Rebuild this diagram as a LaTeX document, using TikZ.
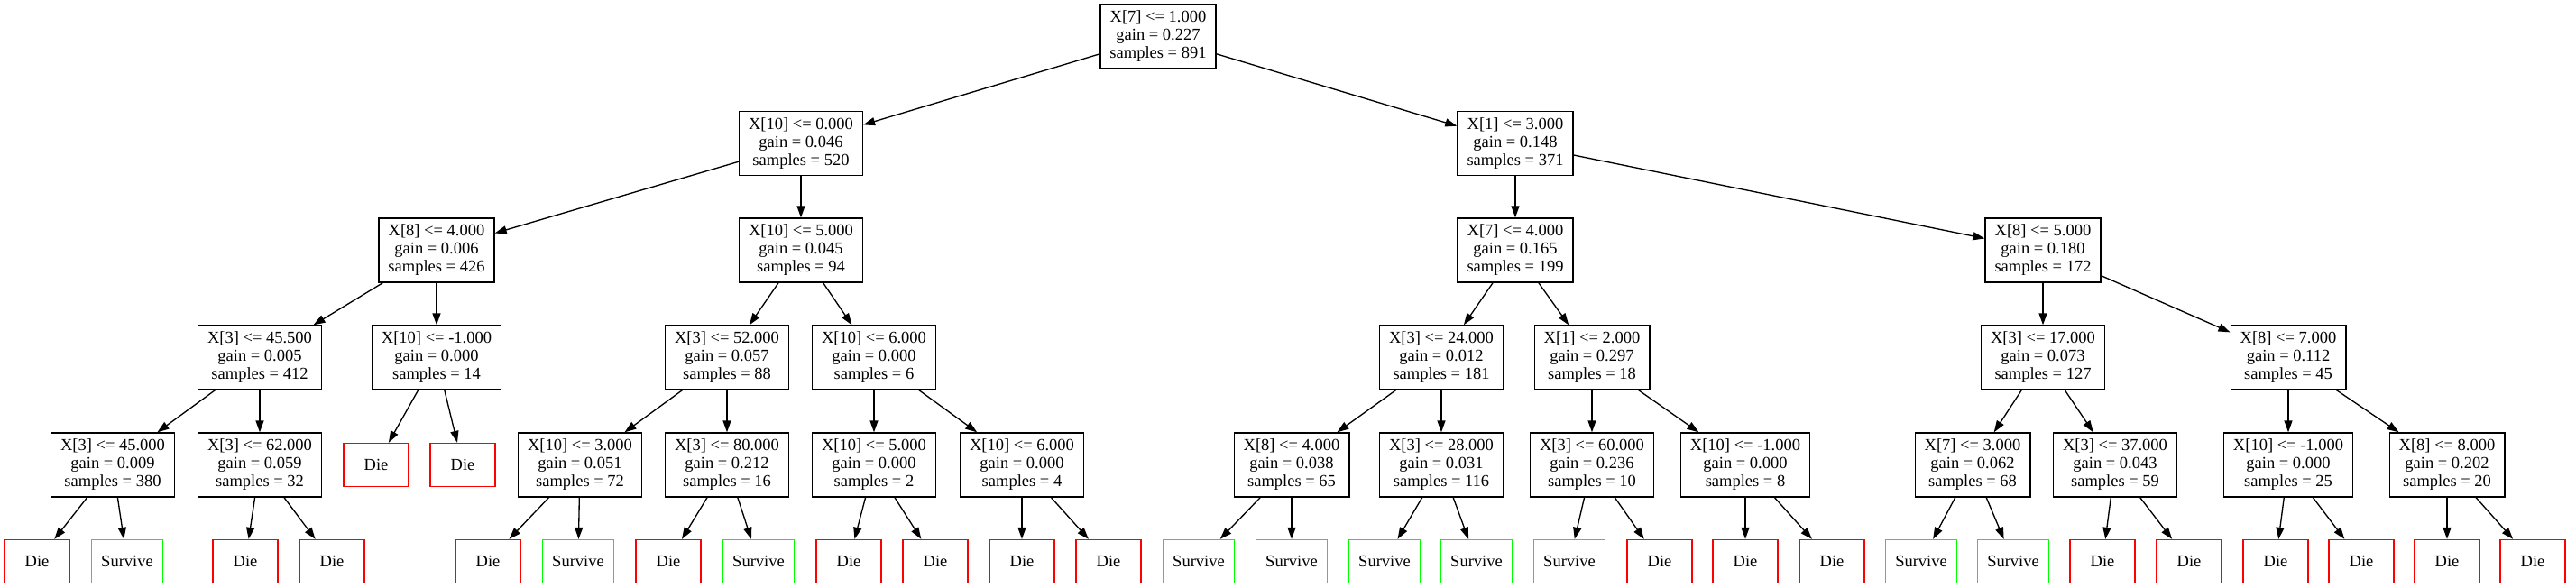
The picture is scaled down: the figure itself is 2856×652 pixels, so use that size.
\documentclass[tikz,border=0pt]{standalone}
\usepackage{fontspec}
\setmainfont{Liberation Serif}
\usetikzlibrary{arrows.meta}

\begin{document}
\begin{tikzpicture}[
        x=1pt, y=-1pt,
        font=\fontsize{18.5}{20}\selectfont,
        split/.style={
            rectangle, draw=black, line width=1.33pt,
            align=center, inner xsep=10.5pt, inner ysep=4pt,
            minimum height=71pt
        },
        leaf/.style={
            rectangle, draw=#1, line width=1.33pt,
            inner xsep=10.5pt, minimum width=72pt, minimum height=48pt
        },
        edge/.style={-{Triangle[length=13pt,width=9pt]}, line width=1.33pt}
    ]
    \useasboundingbox (0,0) rectangle (2856,652);

    % --- Root ---
    \node[split] (r) at (1284,40.5) {X[7] <= 1.000\\gain = 0.227\\samples = 891};

    % --- Level 1 ---
    \node[split] (a) at (888,159) {X[10] <= 0.000\\gain = 0.046\\samples = 520};
    \node[split] (b) at (1680,159) {X[1] <= 3.000\\gain = 0.148\\samples = 371};

    % --- Level 2 ---
    \node[split] (aa) at (484,277.5) {X[8] <= 4.000\\gain = 0.006\\samples = 426};
    \node[split] (ab) at (888,277.5) {X[10] <= 5.000\\gain = 0.045\\samples = 94};
    \node[split] (ba) at (1680,277.5) {X[7] <= 4.000\\gain = 0.165\\samples = 199};
    \node[split] (bb) at (2265,277.5) {X[8] <= 5.000\\gain = 0.180\\samples = 172};

    % --- Level 3 ---
    \node[split] (aaa) at (288,396.5) {X[3] <= 45.500\\gain = 0.005\\samples = 412};
    \node[split] (aab) at (484,396.5) {X[10] <= -1.000\\gain = 0.000\\samples = 14};
    \node[split] (aba) at (806,396.5) {X[3] <= 52.000\\gain = 0.057\\samples = 88};
    \node[split] (abb) at (969,396.5) {X[10] <= 6.000\\gain = 0.000\\samples = 6};
    \node[split] (baa) at (1598,396.5) {X[3] <= 24.000\\gain = 0.012\\samples = 181};
    \node[split] (bab) at (1765,396.5) {X[1] <= 2.000\\gain = 0.297\\samples = 18};
    \node[split] (bba) at (2265,396.5) {X[3] <= 17.000\\gain = 0.073\\samples = 127};
    \node[split] (bbb) at (2537,396.5) {X[8] <= 7.000\\gain = 0.112\\samples = 45};

    % --- Level 4 ---
    \node[split] (aaaa) at (125,515.5) {X[3] <= 45.000\\gain = 0.009\\samples = 380};
    \node[split] (aaab) at (288,515.5) {X[3] <= 62.000\\gain = 0.059\\samples = 32};
    \node[leaf=red] (aab1) at (417,515.5) {Die};
    \node[leaf=red] (aab2) at (513,515.5) {Die};
    \node[split] (abaa) at (643,515.5) {X[10] <= 3.000\\gain = 0.051\\samples = 72};
    \node[split] (abab) at (806,515.5) {X[3] <= 80.000\\gain = 0.212\\samples = 16};
    \node[split] (abba) at (969,515.5) {X[10] <= 5.000\\gain = 0.000\\samples = 2};
    \node[split] (abbb) at (1133,515.5) {X[10] <= 6.000\\gain = 0.000\\samples = 4};
    \node[split] (baaa) at (1432,515.5) {X[8] <= 4.000\\gain = 0.038\\samples = 65};
    \node[split] (baab) at (1598,515.5) {X[3] <= 28.000\\gain = 0.031\\samples = 116};
    \node[split] (baba) at (1765,515.5) {X[3] <= 60.000\\gain = 0.236\\samples = 10};
    \node[split] (babb) at (1935,515.5) {X[10] <= -1.000\\gain = 0.000\\samples = 8};
    \node[split] (bbaa) at (2187,515.5) {X[7] <= 3.000\\gain = 0.062\\samples = 68};
    \node[split] (bbab) at (2345,515.5) {X[3] <= 37.000\\gain = 0.043\\samples = 59};
    \node[split] (bbba) at (2537,515.5) {X[10] <= -1.000\\gain = 0.000\\samples = 25};
    \node[split] (bbbb) at (2713,515.5) {X[8] <= 8.000\\gain = 0.202\\samples = 20};

    % --- Leaves ---
    \node[leaf=red]   (aaaa1) at (41,622.5) {Die};
    \node[leaf=green] (aaaa2) at (141,622.5) {Survive};
    \node[leaf=red]   (aaab1) at (272,622.5) {Die};
    \node[leaf=red]   (aaab2) at (368,622.5) {Die};
    \node[leaf=red]   (abaa1) at (541,622.5) {Die};
    \node[leaf=green] (abaa2) at (641,622.5) {Survive};
    \node[leaf=red]   (abab1) at (741,622.5) {Die};
    \node[leaf=green] (abab2) at (841,622.5) {Survive};
    \node[leaf=red]   (abba1) at (941,622.5) {Die};
    \node[leaf=red]   (abba2) at (1037,622.5) {Die};
    \node[leaf=red]   (abbb1) at (1133,622.5) {Die};
    \node[leaf=red]   (abbb2) at (1229,622.5) {Die};
    \node[leaf=green] (baaa1) at (1329,622.5) {Survive};
    \node[leaf=green] (baaa2) at (1432,622.5) {Survive};
    \node[leaf=green] (baab1) at (1535,622.5) {Survive};
    \node[leaf=green] (baab2) at (1637,622.5) {Survive};
    \node[leaf=green] (baba1) at (1740,622.5) {Survive};
    \node[leaf=red]   (baba2) at (1840,622.5) {Die};
    \node[leaf=red]   (babb1) at (1935,622.5) {Die};
    \node[leaf=red]   (babb2) at (2031,622.5) {Die};
    \node[leaf=green] (bbaa1) at (2130,622.5) {Survive};
    \node[leaf=green] (bbaa2) at (2232,622.5) {Survive};
    \node[leaf=red]   (bbab1) at (2331,622.5) {Die};
    \node[leaf=red]   (bbab2) at (2427,622.5) {Die};
    \node[leaf=red]   (bbba1) at (2523,622.5) {Die};
    \node[leaf=red]   (bbba2) at (2618,622.5) {Die};
    \node[leaf=red]   (bbbb1) at (2713,622.5) {Die};
    \node[leaf=red]   (bbbb2) at (2808,622.5) {Die};

    % --- Edges ---
    \draw[edge] (r) -- (a);     \draw[edge] (r) -- (b);
    \draw[edge] (a) -- (aa);    \draw[edge] (a) -- (ab);
    \draw[edge] (b) -- (ba);    \draw[edge] (b) -- (bb);
    \draw[edge] (aa) -- (aaa);  \draw[edge] (aa) -- (aab);
    \draw[edge] (ab) -- (aba);  \draw[edge] (ab) -- (abb);
    \draw[edge] (ba) -- (baa);  \draw[edge] (ba) -- (bab);
    \draw[edge] (bb) -- (bba);  \draw[edge] (bb) -- (bbb);
    \draw[edge] (aaa) -- (aaaa); \draw[edge] (aaa) -- (aaab);
    \draw[edge] (aab) -- (aab1); \draw[edge] (aab) -- (aab2);
    \draw[edge] (aba) -- (abaa); \draw[edge] (aba) -- (abab);
    \draw[edge] (abb) -- (abba); \draw[edge] (abb) -- (abbb);
    \draw[edge] (baa) -- (baaa); \draw[edge] (baa) -- (baab);
    \draw[edge] (bab) -- (baba); \draw[edge] (bab) -- (babb);
    \draw[edge] (bba) -- (bbaa); \draw[edge] (bba) -- (bbab);
    \draw[edge] (bbb) -- (bbba); \draw[edge] (bbb) -- (bbbb);
    \draw[edge] (aaaa) -- (aaaa1); \draw[edge] (aaaa) -- (aaaa2);
    \draw[edge] (aaab) -- (aaab1); \draw[edge] (aaab) -- (aaab2);
    \draw[edge] (abaa) -- (abaa1); \draw[edge] (abaa) -- (abaa2);
    \draw[edge] (abab) -- (abab1); \draw[edge] (abab) -- (abab2);
    \draw[edge] (abba) -- (abba1); \draw[edge] (abba) -- (abba2);
    \draw[edge] (abbb) -- (abbb1); \draw[edge] (abbb) -- (abbb2);
    \draw[edge] (baaa) -- (baaa1); \draw[edge] (baaa) -- (baaa2);
    \draw[edge] (baab) -- (baab1); \draw[edge] (baab) -- (baab2);
    \draw[edge] (baba) -- (baba1); \draw[edge] (baba) -- (baba2);
    \draw[edge] (babb) -- (babb1); \draw[edge] (babb) -- (babb2);
    \draw[edge] (bbaa) -- (bbaa1); \draw[edge] (bbaa) -- (bbaa2);
    \draw[edge] (bbab) -- (bbab1); \draw[edge] (bbab) -- (bbab2);
    \draw[edge] (bbba) -- (bbba1); \draw[edge] (bbba) -- (bbba2);
    \draw[edge] (bbbb) -- (bbbb1); \draw[edge] (bbbb) -- (bbbb2);

\end{tikzpicture}
\end{document}
